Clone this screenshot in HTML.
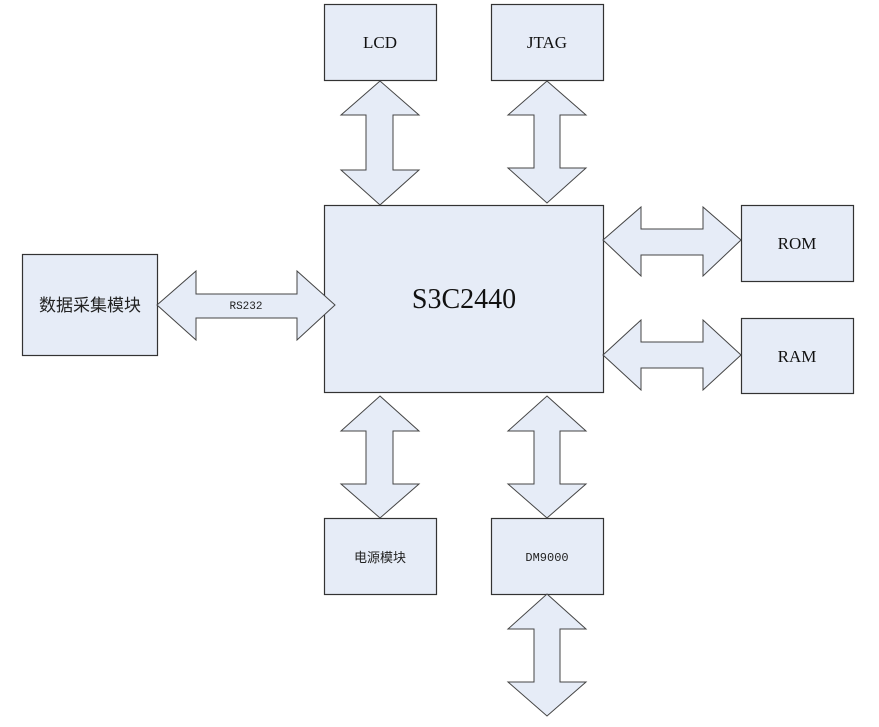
<!DOCTYPE html>
<html><head><meta charset="utf-8"><style>
body{margin:0;background:#fff;width:879px;height:722px;overflow:hidden}
</style></head><body>
<svg width="879" height="722" viewBox="0 0 879 722" xmlns="http://www.w3.org/2000/svg">
<g fill="#E6ECF7" stroke="#333" stroke-width="1.2">
<rect x="324.5" y="4.5" width="112" height="76"/>
<rect x="491.5" y="4.5" width="112" height="76"/>
<rect x="324.5" y="205.5" width="279" height="187"/>
<rect x="22.5" y="254.5" width="135" height="101"/>
<rect x="741.5" y="205.5" width="112" height="76"/>
<rect x="741.5" y="318.5" width="112" height="75"/>
<rect x="324.5" y="518.5" width="112" height="76"/>
<rect x="491.5" y="518.5" width="112" height="76"/>
</g>
<g fill="#E6ECF7" stroke="#444" stroke-width="1">
<polygon points="380,81 419,115 393,115 393,170 419,170 380,205 341,170 366,170 366,115 341,115"/>
<polygon points="547,81 586,115 560,115 560,168 586,168 547,203 508,168 534,168 534,115 508,115"/>
<polygon points="380,396 419,431 393,431 393,484 419,484 380,518 341,484 366,484 366,431 341,431"/>
<polygon points="547,396 586,431 560,431 560,484 586,484 547,518 508,484 534,484 534,431 508,431"/>
<polygon points="547,594 586,629 560,629 560,682 586,682 547,716 508,682 534,682 534,629 508,629"/>
<polygon points="157,305 196,271 196,294 297,294 297,271 335,305 297,340 297,318 196,318 196,340"/>
<polygon points="603,240 641,207 641,229 703,229 703,207 741,240 703,276 703,255 641,255 641,276"/>
<polygon points="603,355 641,320 641,342 703,342 703,320 741,355 703,390 703,368 641,368 641,390"/>
</g>
<g font-family="Liberation Serif, 'Noto Serif CJK SC', serif" fill="#111" text-anchor="middle">
<text x="380" y="48" font-size="17">LCD</text>
<text x="547" y="48" font-size="17">JTAG</text>
<text x="464" y="308" font-size="28">S3C2440</text>
<text x="797" y="249" font-size="17">ROM</text>
<text x="797" y="362" font-size="17">RAM</text>
</g>
<g font-family="Liberation Mono, monospace" fill="#222" text-anchor="middle">
<text x="246" y="309" font-size="11">RS232</text>
<text x="547" y="561" font-size="12">DM9000</text>
</g>
<g font-family="Liberation Sans, 'Noto Sans CJK SC', sans-serif" fill="#222" text-anchor="middle">
<text x="90" y="311" font-size="17">数据采集模块</text>
<text x="380" y="562" font-size="13">电源模块</text>
</g>
</svg>
</body></html>
